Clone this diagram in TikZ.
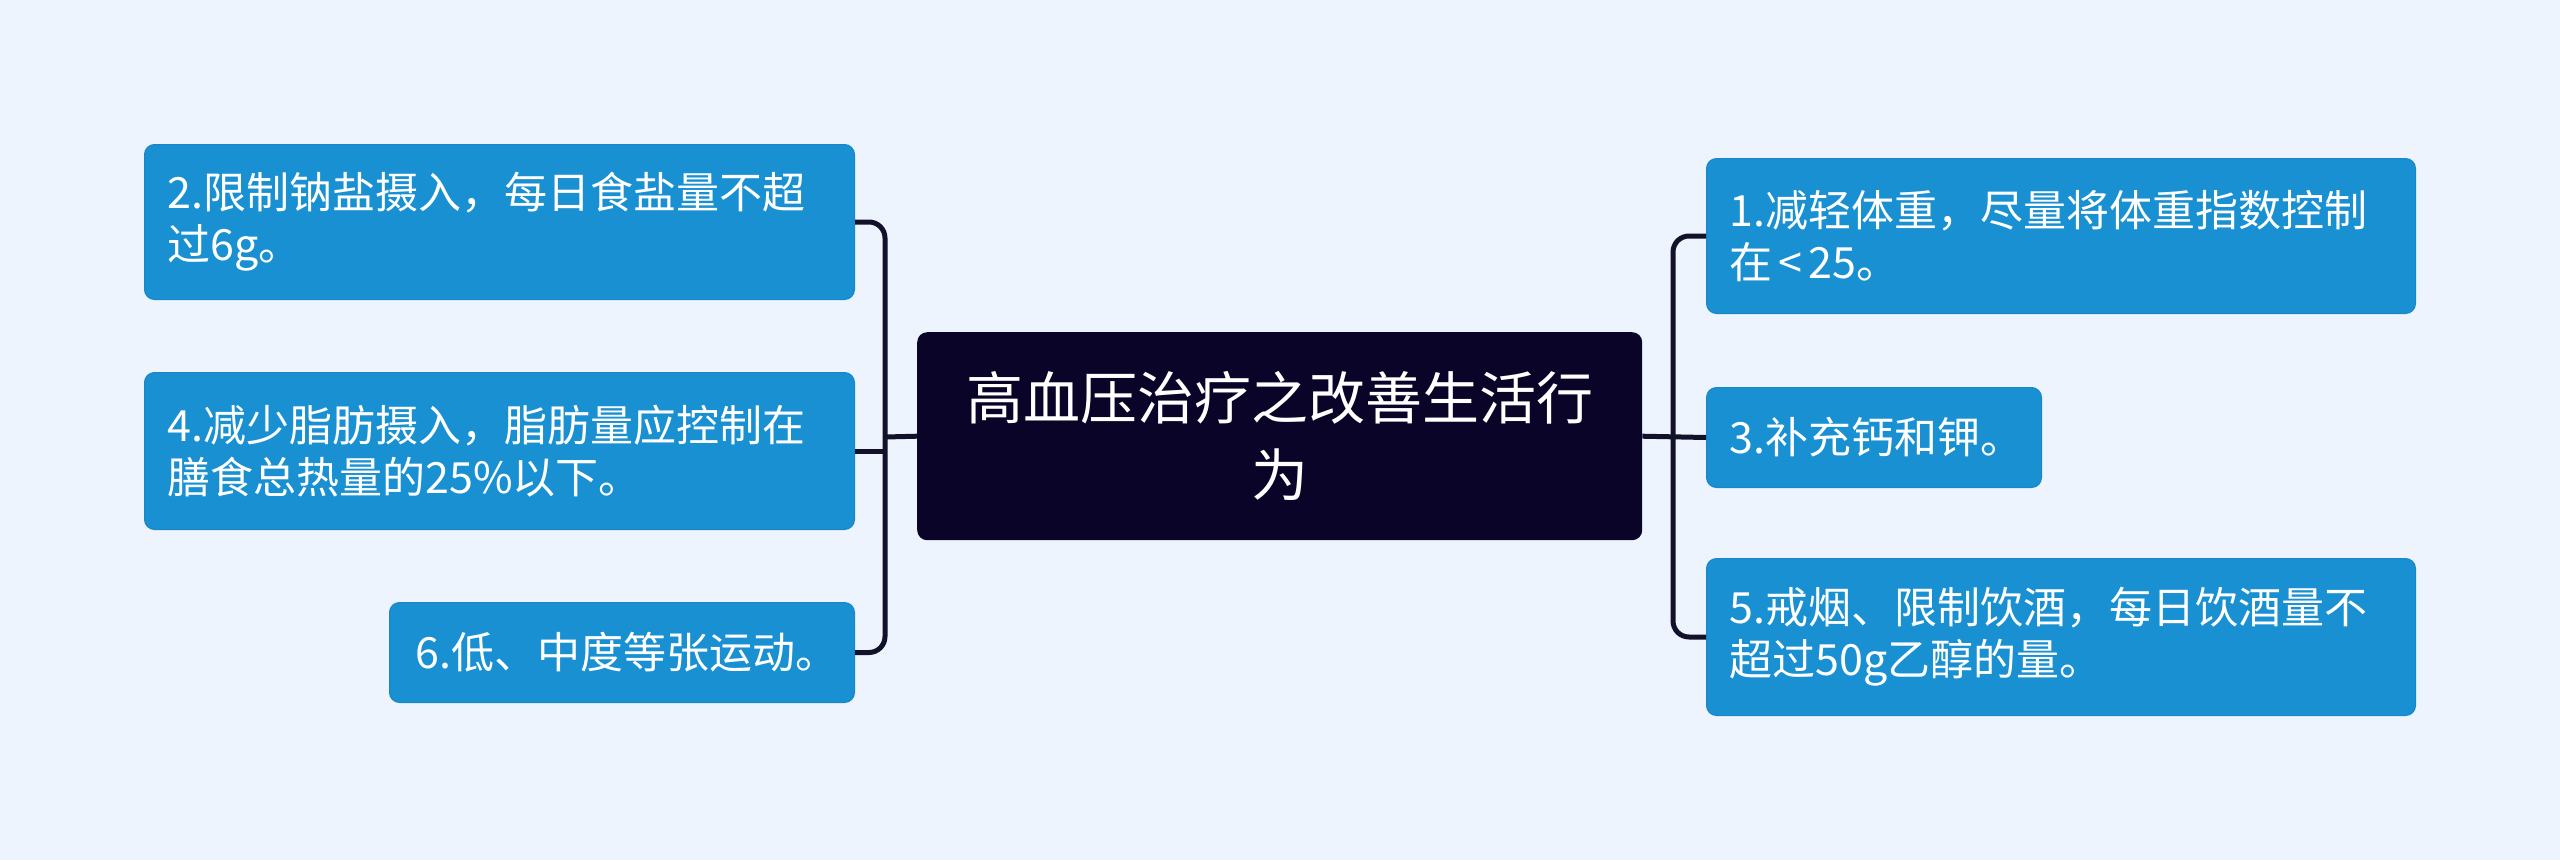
\documentclass[tikz,border=0pt]{standalone}
\usepackage{fontspec}
\setmainfont{Noto Sans CJK SC}
\definecolor{bgc}{HTML}{EEF4FE}
\definecolor{leafc}{HTML}{1890D2}
\definecolor{leafb}{HTML}{1A86C4}
\definecolor{rootc}{HTML}{0A0528}
\definecolor{linec}{HTML}{12112A}
\tikzset{
  leaf/.style={draw=leafb, line width=1pt, fill=leafc, rounded corners=10pt, anchor=north west,
    text=white, align=left, inner xsep=0pt, inner ysep=0pt, font=\fontsize{43}{52}\selectfont},
  rootbox/.style={fill=rootc, rounded corners=10pt, anchor=north west, text=white, align=center,
    inner sep=0pt, font=\fontsize{57}{77}\selectfont},
  conn/.style={draw=linec, line width=5pt, rounded corners=16pt}
}
\begin{document}
\begin{tikzpicture}[x=1pt,y=-1pt]
\useasboundingbox[fill=bgc] (0,0) rectangle (2560,860);
% root
\node[rootbox, minimum width=725pt, minimum height=208pt] (root) at (917,332) {高血压治疗之改善生活行\\为};
% left leaves
\node[leaf, minimum width=710pt, minimum height=155pt, text width=664pt] (n2) at (144,144) {2.限制钠盐摄入，每日食盐量不超\\过6g。};
\node[leaf, minimum width=710pt, minimum height=157pt, text width=664pt] (n4) at (144,372) {4.减少脂肪摄入，脂肪量应控制在\\膳食总热量的25\%以下。};
\node[leaf, minimum width=465pt, minimum height=100pt, text width=413pt] (n6) at (389,602) {6.低、中度等张运动。};
% right leaves
\node[leaf, minimum width=709pt, minimum height=155pt, text width=663pt] (n1) at (1706,158) {1.减轻体重，尽量将体重指数控制\\在\hspace{6pt}<\hspace{6pt}25。};
\node[leaf, minimum width=335pt, minimum height=100pt, text width=289pt] (n3) at (1706,387) {3.补充钙和钾。};
\node[leaf, minimum width=709pt, minimum height=157pt, text width=663pt] (n5) at (1706,558) {5.戒烟、限制饮酒，每日饮酒量不\\超过50g乙醇的量。};
% connector junctions
\coordinate (lj) at (885,437);
\coordinate (rj) at (1673,437);
% left connectors
\draw[conn] (root.west) -- (lj);
\draw[conn] (n2.east) -| (lj);
\draw[conn] (n6.east) -| (lj);
\draw[conn] (n4.east) -- (n4.east -| lj);
% right connectors
\draw[conn] (root.east) -- (n3.west);
\draw[conn] (n1.west) -| (rj);
\draw[conn] (n5.west) -| (rj);
\end{tikzpicture}
\end{document}
